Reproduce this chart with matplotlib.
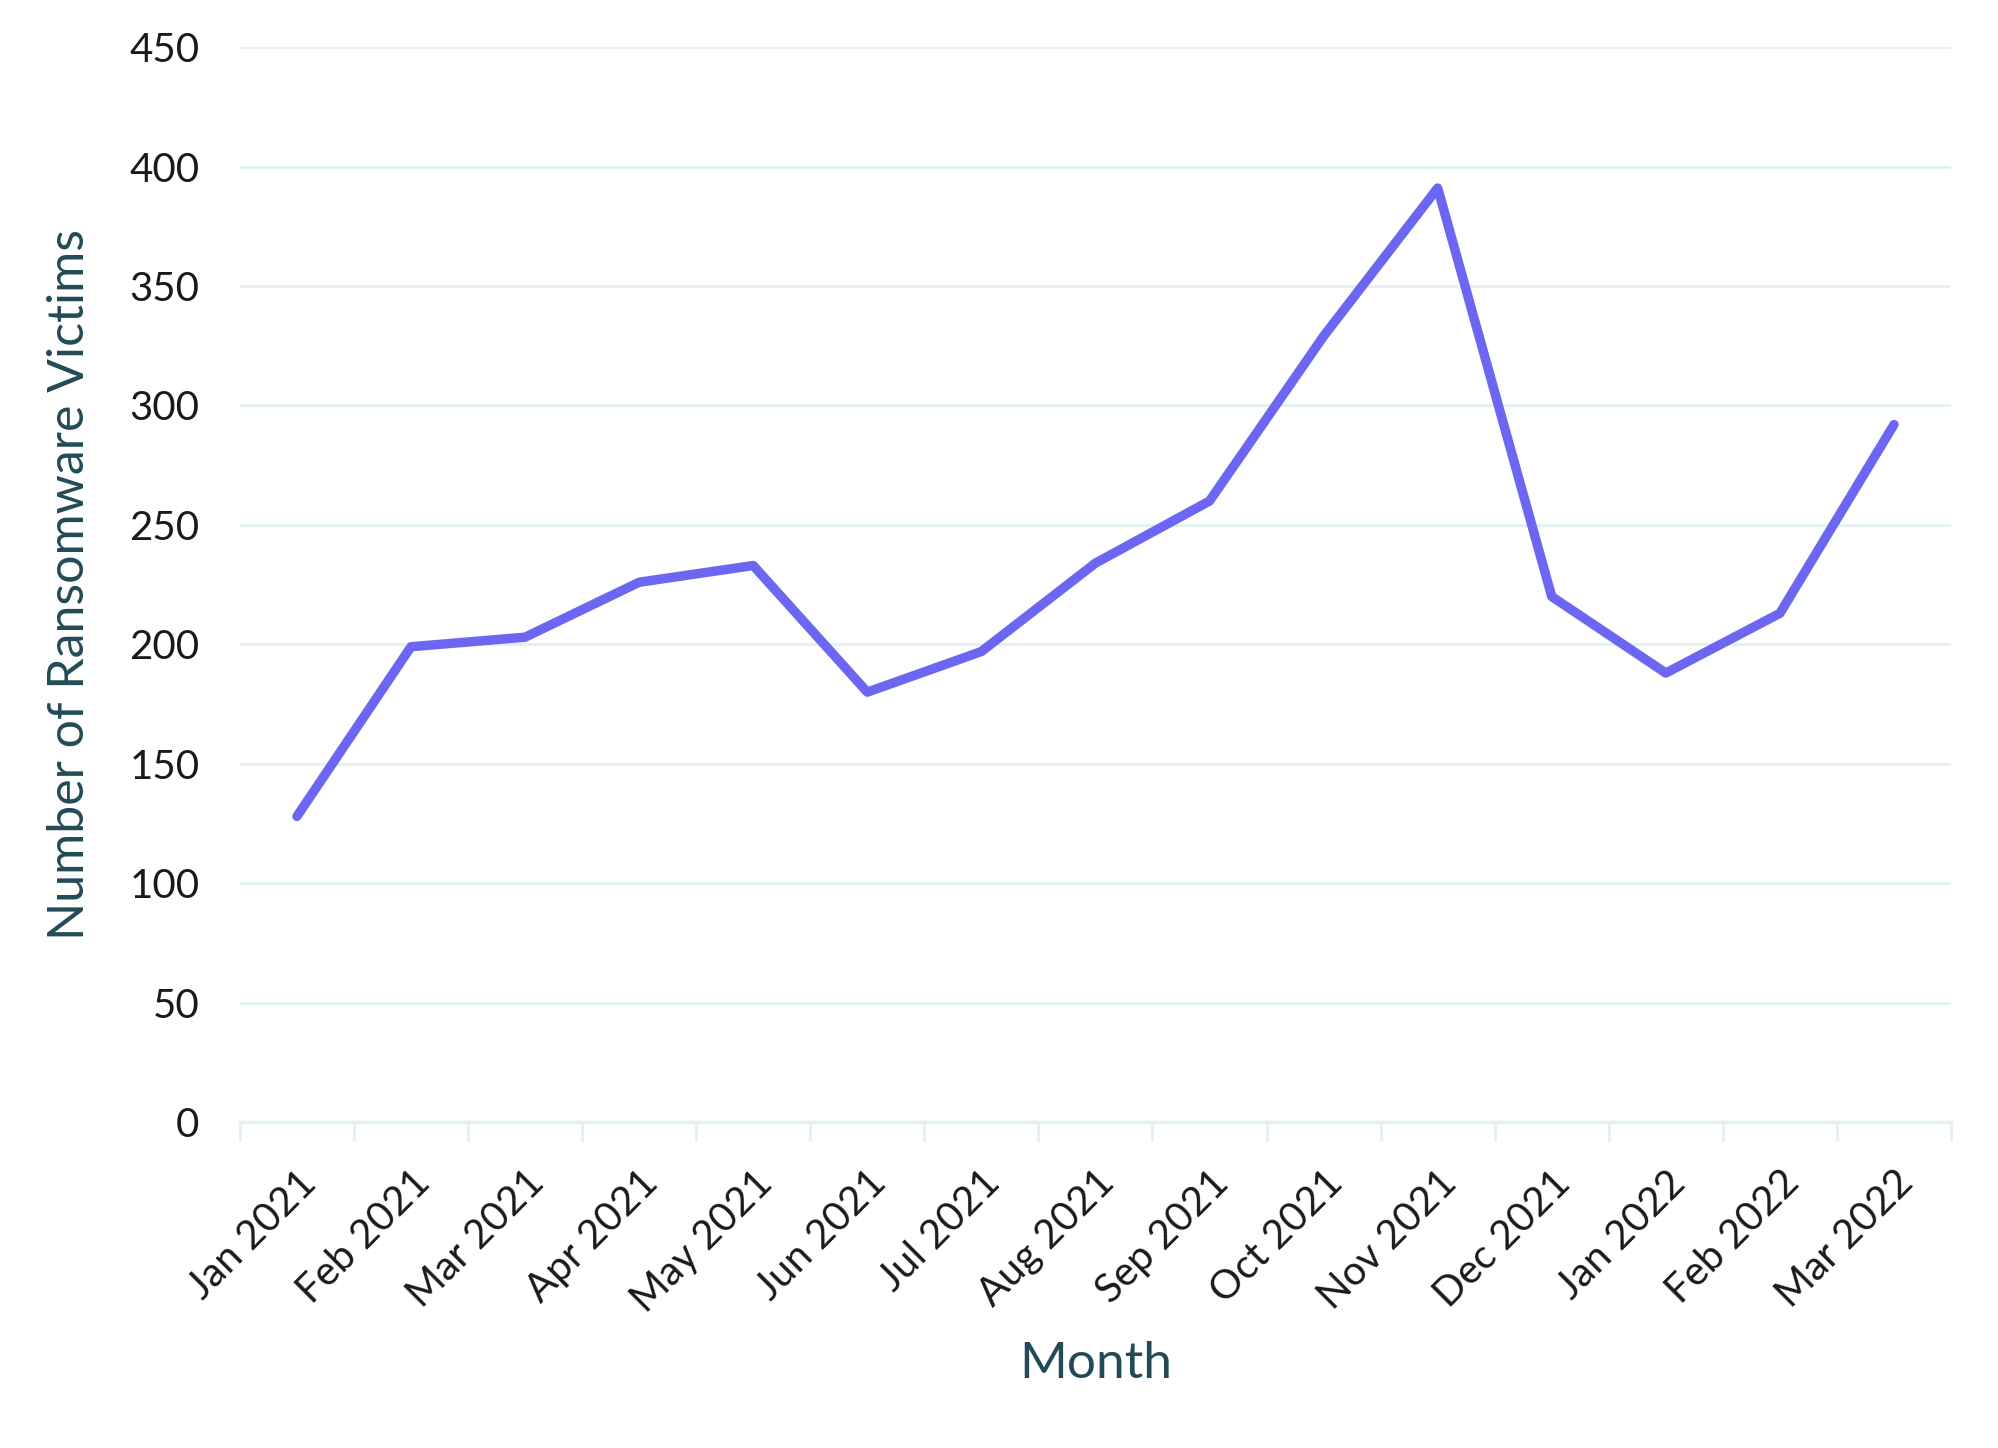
import matplotlib
matplotlib.use("Agg")
import matplotlib.pyplot as plt
import numpy as np

months = ["Jan 2021", "Feb 2021", "Mar 2021", "Apr 2021", "May 2021", "Jun 2021",
          "Jul 2021", "Aug 2021", "Sep 2021", "Oct 2021", "Nov 2021", "Dec 2021",
          "Jan 2022", "Feb 2022", "Mar 2022"]
victims = [128, 199, 203, 226, 233, 180, 197, 234, 260, 329, 391, 220, 188, 213, 292]
yticks = [0, 50, 100, 150, 200, 250, 300, 350, 400, 450]

plt.rcParams['font.family'] = ['Lato', 'DejaVu Sans']

fig = plt.figure(figsize=(19.99, 14.48), dpi=100)
ax = fig.add_axes([0.120, 0.225, 0.856, 0.7425])

grid_c = "#e3f1f1"
x = np.arange(len(months))
ax.plot(x, victims, color="#6c67f2", lw=6.8, solid_joinstyle="round", solid_capstyle="round", zorder=3)

ax.set_xlim(-0.5, len(months) - 0.5)
ax.set_ylim(0, 450)
ax.set_yticks(yticks)
ax.set_yticklabels([str(v) for v in yticks], fontsize=29, color="#1a1a1a")
ax.tick_params(axis='y', length=0, pad=29)
ax.yaxis.grid(True, color=grid_c, lw=2)
ax.set_axisbelow(True)

ax.set_xticks(np.arange(-0.5, len(months), 1.0))
ax.set_xticklabels([])
ax.set_xticks(x, minor=True)
ax.set_xticklabels(months, minor=True, rotation=45, ha="right", rotation_mode="anchor",
                   fontsize=29, color="#1a1a1a")
ax.tick_params(axis='x', which='major', length=14, width=2, color=grid_c)
ax.tick_params(axis='x', which='minor', length=0, pad=30)

for s in ["top", "right", "left"]:
    ax.spines[s].set_visible(False)
ax.spines["bottom"].set_color(grid_c)
ax.spines["bottom"].set_linewidth(2.5)

ax.set_xlabel("Month", fontsize=37, color="#224b57", labelpad=16)
ax.set_ylabel("Number of Ransomware Victims", fontsize=36, color="#224b57", labelpad=26)

fig.savefig("out.png", dpi=100, facecolor="white")
